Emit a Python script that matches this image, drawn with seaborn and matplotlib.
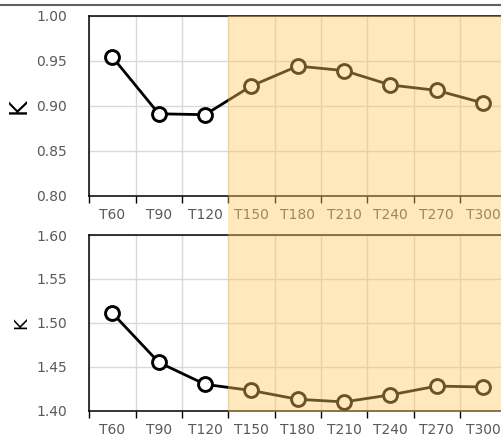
import matplotlib
matplotlib.use("Agg")
import matplotlib.pyplot as plt
import seaborn as sns
import pandas as pd
from matplotlib.patches import Rectangle
from matplotlib.lines import Line2D

times = ['T60', 'T90', 'T120', 'T150', 'T180', 'T210', 'T240', 'T270', 'T300']
k_top = [0.954, 0.891, 0.890, 0.922, 0.944, 0.939, 0.923, 0.917, 0.903]
k_bottom = [1.511, 1.455, 1.430, 1.423, 1.413, 1.410, 1.418, 1.428, 1.427]

sns.set_style('white')
plt.rcParams['font.family'] = ['DejaVu Sans']

fig = plt.figure(figsize=(5.01, 4.37), dpi=100)
ax1 = fig.add_axes([0.1782, 0.5522, 0.8323, 0.4119])
ax2 = fig.add_axes([0.1782, 0.0602, 0.8323, 0.4020])


def draw(ax, values, ylim, yticks, label, label_size):
    df = pd.DataFrame({'Time': times, 'K': values})
    sns.lineplot(data=df, x='Time', y='K', ax=ax, color='black', lw=2.0,
                 marker='o', markersize=10, markerfacecolor='white',
                 markeredgecolor='black', markeredgewidth=2.1, sort=False)
    ax.set_xlim(-0.5, 8.5)
    ax.set_ylim(*ylim)
    ax.set_yticks(yticks)
    ax.set_yticklabels([f'{v:.2f}' for v in yticks])
    # boundaries as major ticks (grid), labels on minor ticks at centers
    ax.set_xticks([i + 0.5 for i in range(-1, 9)])
    ax.set_xticklabels([])
    ax.set_xticks(range(len(times)), minor=True)
    ax.set_xticklabels(times, minor=True)
    ax.tick_params(axis='x', which='major', direction='out', length=5,
                   width=1, color='black', bottom=True)
    ax.tick_params(axis='x', which='minor', length=0, labelsize=10,
                   labelcolor='#595959', pad=9)
    ax.tick_params(axis='y', length=0, labelsize=10, labelcolor='#595959', pad=16)
    ax.grid(True, which='major', color='#d9d9d9', lw=1)
    ax.set_axisbelow(True)
    for s in ['left', 'bottom', 'top']:
        ax.spines[s].set_color('black')
        ax.spines[s].set_linewidth(1.1)
    ax.spines['right'].set_visible(False)
    ax.set_xlabel('')
    ax.set_ylabel(label, fontsize=label_size, color='black', labelpad=4)


draw(ax1, k_top, (0.80, 1.00), [0.80, 0.85, 0.90, 0.95, 1.00], 'K', 17)
draw(ax2, k_bottom, (1.40, 1.60), [1.40, 1.45, 1.50, 1.55, 1.60], 'K', 13)

# shaded period overlay
fig.add_artist(Rectangle((0.4557, 0.0572), 0.5443, 0.9069,
                         transform=fig.transFigure, facecolor='#ffca5f',
                         alpha=0.42, edgecolor='none', zorder=5))
# thin frame line at the very top
fig.add_artist(Line2D([0, 1], [0.989, 0.989], transform=fig.transFigure,
                      color='#606060', lw=1.5))

fig.savefig('out.png', dpi=100)
